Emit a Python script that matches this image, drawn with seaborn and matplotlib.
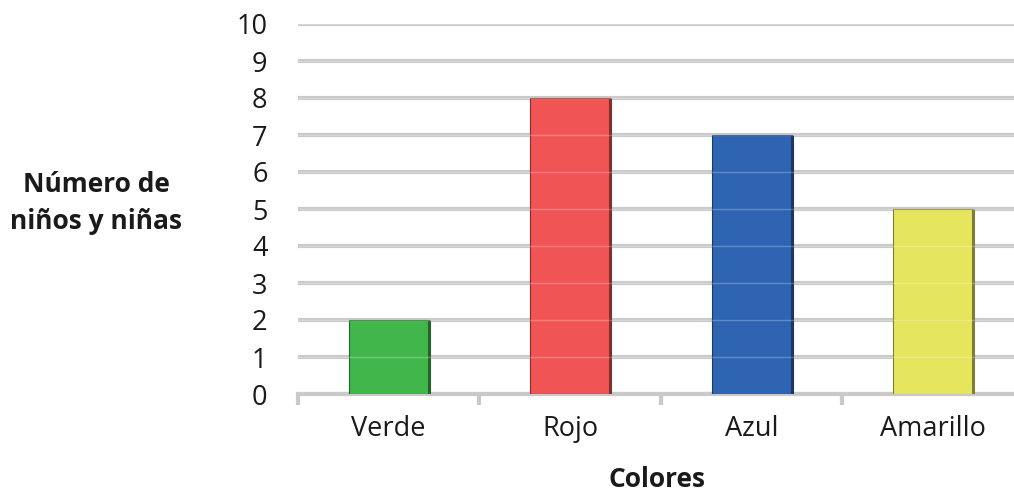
import matplotlib
matplotlib.use("Agg")
import matplotlib.pyplot as plt
import seaborn as sns
import pandas as pd
import numpy as np
from matplotlib.colors import to_rgb

colores = ["Verde", "Rojo", "Azul", "Amarillo"]
ninos = [2, 8, 7, 5]
tonos = ["#41b64a", "#f15454", "#2f64b2", "#e5e55e"]
y_ticks = list(range(0, 11))

sns.set_theme(style="white")
plt.rcParams["font.family"] = ["Open Sans", "DejaVu Sans"]

df = pd.DataFrame({"Colores": colores, "Niños": ninos})

fig = plt.figure(figsize=(10.14, 4.94), dpi=100)
ax = fig.add_axes([298 / 1014, 100 / 494, 716 / 1014, 370 / 494])

sns.barplot(data=df, x="Colores", y="Niños", hue="Colores", palette=tonos,
            width=0.44, legend=False, ax=ax, zorder=3, saturation=1)

# darker outline along each bar, heavier on the right side
for patch, c in zip(ax.patches, tonos):
    dark = tuple(np.array(to_rgb(c)) * 0.55)
    patch.set_edgecolor(dark)
    patch.set_linewidth(0.8)
    x0 = patch.get_x()
    w = patch.get_width()
    h = patch.get_height()
    ax.plot([x0 + w, x0 + w], [0, h], color=dark, lw=2.2, zorder=4,
            solid_capstyle="butt")

ax.set_ylim(0, 10)
ax.set_xlim(-0.5, 3.445)
ax.set_yticks(y_ticks)
ax.yaxis.grid(True, color="#c9c9c9", linewidth=3, zorder=0)
ax.set_axisbelow(True)

# faint light lines where the grid passes over the bars
for y in y_ticks[1:]:
    ax.axhline(y, color="white", alpha=0.25, lw=1, zorder=5)

for s in ["top", "right", "left"]:
    ax.spines[s].set_visible(False)
ax.spines["bottom"].set_color("#c9c9c9")
ax.spines["bottom"].set_linewidth(3)
ax.spines["bottom"].set_zorder(2)

ax.tick_params(axis="y", length=0, pad=22, labelsize=19.5, labelcolor="#1a1a1a")
ax.tick_params(axis="x", length=0, pad=15, labelsize=19.5, labelcolor="#1a1a1a")

# category separators below the axis
for b in [-0.5, 0.5, 1.5, 2.5]:
    ax.plot([b, b], [0, -0.3], color="#c9c9c9", lw=3, clip_on=False, zorder=2,
            solid_capstyle="butt")

ax.set_xlabel("")
ax.set_ylabel("")
fig.text(96 / 1014, 1 - 203 / 494, "Número de\nniños y niñas", ha="center",
         va="center", fontsize=19, fontweight="bold", color="#1a1a1a",
         linespacing=1.45)
fig.text(657 / 1014, 1 - 479 / 494, "Colores", ha="center", va="center",
         fontsize=19, fontweight="bold", color="#1a1a1a")

fig.savefig("out.png", dpi=100)
